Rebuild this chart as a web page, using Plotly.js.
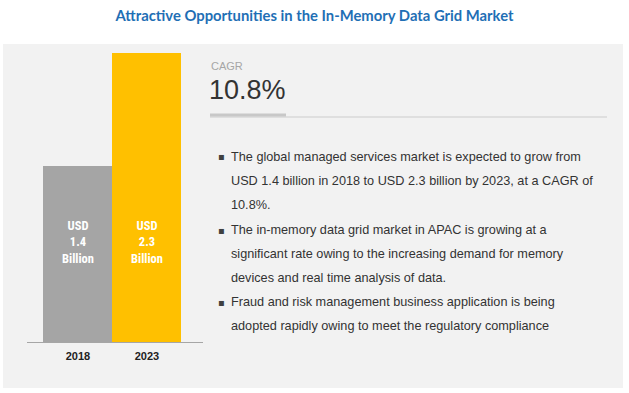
<!DOCTYPE html>
<html>
<head>
<meta charset="utf-8">
<script src="https://cdn.plot.ly/plotly-3.0.1.min.js"></script>
<style>html,body{margin:0;padding:0;background:#fff;}#chart{width:629px;height:393px;}</style>
</head>
<body>
<div id="chart"></div>
<script>
// ---- data ----
const years = ['2018', '2023'];
const marketValues = [1.4, 2.3];           // USD billion
const barLabels = ['USD<br>1.4<br>Billion', 'USD<br>2.3<br>Billion'];
const cagrLabel = 'CAGR';
const cagrValue = '10.8%';
const bulletLines = [
  ['The global managed services market is expected to grow from',
   'USD 1.4 billion in 2018 to USD 2.3 billion by 2023, at a CAGR of',
   '10.8%.'],
  ['The in-memory data grid market in APAC is growing at a',
   'significant rate owing to the increasing demand for memory',
   'devices and real time analysis of data.'],
  ['Fraud and risk management business application is being',
   'adopted rapidly owing to meet the regulatory compliance']
];
const chartTitle = 'Attractive Opportunities in the In-Memory Data Grid Market';

// ---- styling ----
const W = 629, H = 393;
const barColors = ['#a5a5a5', '#ffc000'];
const px = x => x / W;
const py = y => (H - y) / H;

const trace = {
  type: 'bar',
  x: years,
  y: marketValues,
  width: [1, 1],
  marker: {color: barColors, line: {width: 0}},
  hoverinfo: 'none'
};

const annotations = [];
// bar labels (category index positions on the x axis)
years.forEach((yr, i) => {
  annotations.push({
    xref: 'x', yref: 'paper', x: i, y: py(242),
    text: '<b>' + barLabels[i] + '</b>', showarrow: false,
    xanchor: 'center', yanchor: 'middle',
    font: {family: '"Liberation Sans Narrow", "Roboto Condensed", Arial, sans-serif', size: 12.5, color: '#ffffff'}
  });
});
// CAGR
annotations.push({xref: 'paper', yref: 'paper', x: px(209), y: py(66), text: cagrLabel, showarrow: false,
  xanchor: 'left', yanchor: 'middle', font: {family: '"Liberation Sans Narrow", Arial, sans-serif', size: 11, color: '#a6a6a6'}});
annotations.push({xref: 'paper', yref: 'paper', x: px(207), y: py(90), text: cagrValue, showarrow: false,
  xanchor: 'left', yanchor: 'middle', font: {family: '"Liberation Sans", Arial, sans-serif', size: 27, color: '#333333'}});
// bullets
const lineY = [157, 181, 205, 230, 254, 278, 302, 326];
let li = 0;
bulletLines.forEach(group => {
  group.forEach((line, j) => {
    if (j === 0) {
      annotations.push({xref: 'paper', yref: 'paper', x: px(216), y: py(lineY[li]), text: '▪', showarrow: false,
        xanchor: 'left', yanchor: 'middle', font: {family: '"DejaVu Sans", sans-serif', size: 10, color: '#404040'}});
    }
    annotations.push({xref: 'paper', yref: 'paper', x: px(229), y: py(lineY[li]), text: line, showarrow: false,
      xanchor: 'left', yanchor: 'middle', font: {family: '"Liberation Sans", Arial, sans-serif', size: 12.7, color: '#333333'}});
    li++;
  });
});

const layout = {
  width: W, height: H,
  margin: {l: 0, r: 0, t: 0, b: 0},
  paper_bgcolor: '#ffffff',
  plot_bgcolor: 'rgba(0,0,0,0)',
  showlegend: false,
  bargap: 0,
  title: {text: '<b>' + chartTitle + '</b>', x: 0.5, xanchor: 'center', y: py(16), yanchor: 'middle',
    font: {family: 'Lato, "Open Sans", sans-serif', size: 14.8, color: '#1f6fb5'}},
  xaxis: {
    type: 'category', domain: [px(27), px(203)], range: [-0.739, 1.812],
    showline: true, linecolor: '#a6a6a6', linewidth: 1, showgrid: false, zeroline: false,
    ticks: '', ticklabelstandoff: 4,
    tickfont: {family: '"Liberation Sans", Arial, sans-serif', size: 11, color: '#222', weight: 'bold'},
    fixedrange: true
  },
  yaxis: {
    domain: [py(342), py(53)], range: [0, 2.3], visible: false, fixedrange: true
  },
  shapes: [
    {type: 'rect', xref: 'paper', yref: 'paper', x0: px(3), x1: px(623), y0: py(388), y1: py(44),
      fillcolor: '#f2f2f2', line: {width: 0}, layer: 'below'},
    {type: 'line', xref: 'paper', yref: 'paper', x0: px(210), x1: px(607), y0: py(117), y1: py(117),
      line: {color: '#d9d9d9', width: 1.5}},
    {type: 'line', xref: 'paper', yref: 'paper', x0: px(210), x1: px(286), y0: py(115), y1: py(115),
      line: {color: '#c8c8c8', width: 3}}
  ],
  annotations: annotations
};

Plotly.newPlot('chart', [trace], layout, {displayModeBar: false, staticPlot: true});
</script>
</body>
</html>
